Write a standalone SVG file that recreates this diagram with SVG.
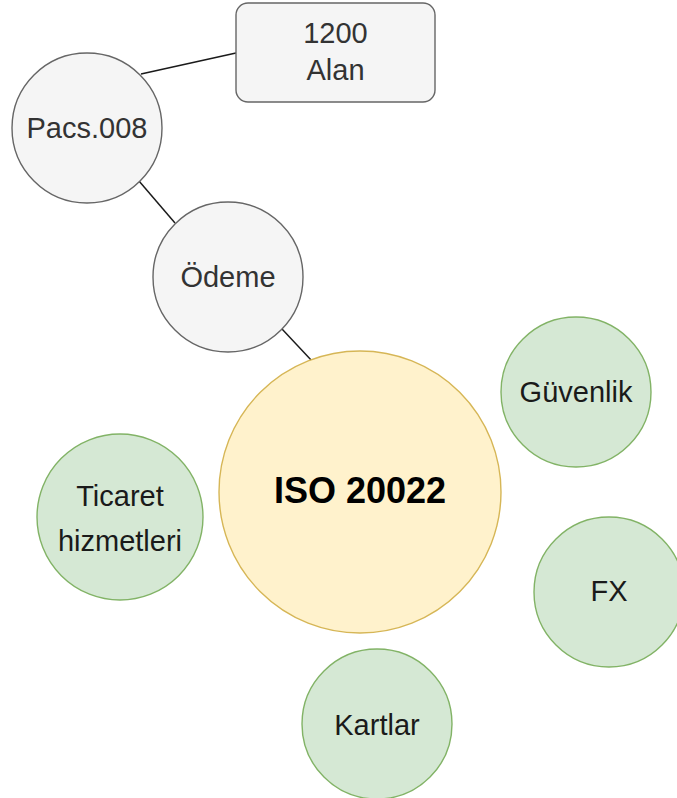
<svg xmlns="http://www.w3.org/2000/svg" width="677" height="798" viewBox="0 0 677 798">
<style>
text{font-family:"Liberation Sans",Arial,sans-serif;font-size:29px;text-anchor:middle}
.gray{fill:#f5f5f5;stroke:#666666;stroke-width:1.4}
.gray-t{fill:#333333}
.green{fill:#d5e8d4;stroke:#82b366;stroke-width:1.4}
.green-t{fill:#1a1a1a}
.yellow{fill:#fff2cc;stroke:#d6b656;stroke-width:1.4}
.edge{stroke:#1a1a1a;stroke-width:1.5;fill:none}
</style>
<rect width="677" height="798" fill="#ffffff"/>
<g id="connectors">
<line class="edge" x1="141" y1="74" x2="236" y2="53"/>
<line class="edge" x1="139" y1="181" x2="175" y2="223"/>
<line class="edge" x1="282" y1="329" x2="312" y2="361"/>
</g>
<g id="node-1200-alan">
<rect class="gray" x="236" y="3" width="199" height="99" rx="12"/>
<text class="gray-t" x="335.5" y="43">1200</text>
<text class="gray-t" x="335.5" y="80">Alan</text>
</g>
<g id="node-pacs008">
<circle class="gray" cx="87" cy="128" r="75"/>
<text class="gray-t" x="87" y="138">Pacs.008</text>
</g>
<g id="node-odeme">
<circle class="gray" cx="228" cy="277" r="75"/>
<text class="gray-t" x="228" y="287">Ödeme</text>
</g>
<g id="node-iso20022">
<circle class="yellow" cx="360" cy="492" r="141"/>
<text x="360" y="503" style="font-size:36px;font-weight:bold;fill:#000000">ISO 20022</text>
</g>
<g id="node-guvenlik">
<circle class="green" cx="576" cy="392" r="75"/>
<text class="green-t" x="576" y="402">Güvenlik</text>
</g>
<g id="node-ticaret">
<circle class="green" cx="120" cy="517" r="83"/>
<text class="green-t" x="120" y="506">Ticaret</text>
<text class="green-t" x="120" y="551">hizmetleri</text>
</g>
<g id="node-fx">
<circle class="green" cx="609" cy="592" r="75"/>
<text class="green-t" x="609" y="601">FX</text>
</g>
<g id="node-kartlar">
<circle class="green" cx="377" cy="724" r="75"/>
<text class="green-t" x="377" y="735">Kartlar</text>
</g>
</svg>
